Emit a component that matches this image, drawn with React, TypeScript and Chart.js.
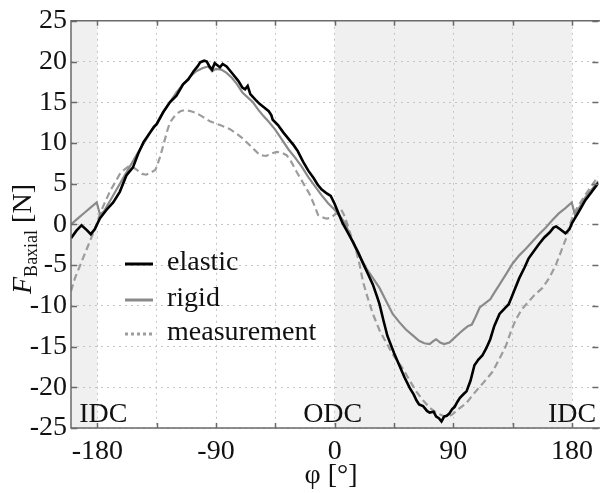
import React, { useEffect, useRef } from "react";
import { Chart, registerables } from "chart.js";

Chart.register(...registerables);

// ---------- data ----------
const elasticAngle = [
  -200, -196, -192, -188, -185, -182, -178, -173, -168, -163, -158, -153, -149, -145, -140, -137, -135, -130, -125, -120,
  -115, -111, -107, -104, -102, -99, -97, -95, -93, -91, -89.5, -87, -85, -82, -79, -77, -73, -70, -68, -66,
  -64, -60, -57, -53, -50, -48, -47, -43, -39, -35, -31, -28, -24, -20, -16, -13, -10, -6, -3, 0,
  3, 6, 10, 14, 18, 21, 25, 29, 32, 34, 37, 40, 45, 49, 53, 57, 60, 62, 64, 67,
  70, 72, 75, 77, 79, 81, 83, 85, 87, 89, 91, 93, 95, 98, 100, 103, 106, 109, 112, 115,
  118, 121, 125, 129, 132, 136, 140, 144, 147, 151, 155, 159, 163, 166, 168, 171, 175, 178, 180, 185,
  190, 195, 200,
];
const elasticForce = [
  -1.7, -0.8, -0.1, -0.7, -1.2, -0.6, 0.75, 1.8, 2.7, 4.0, 6.0, 7.0, 8.7, 10.1, 11.3, 12.0, 12.3, 13.8, 15.0, 15.8,
  17.2, 17.8, 18.8, 19.4, 19.9, 20.1, 20.0, 19.4, 19.0, 19.8, 19.6, 19.3, 19.7, 19.4, 18.8, 18.4, 17.6, 16.8, 16.6, 17.0,
  16.0, 15.3, 14.8, 14.3, 13.9, 13.4, 12.85, 12.2, 11.3, 10.5, 9.7, 9.0, 7.7, 6.6, 5.7, 4.9, 4.3, 3.8, 3.5, 2.5,
  1.3, 0.15, -1.0, -2.2, -3.5, -4.6, -6.0, -7.4, -8.8, -9.8, -11.8, -13.7, -15.8, -17.3, -18.8, -20.1, -20.9, -21.6, -22.1, -22.3,
  -22.9, -23.1, -23.0, -23.6, -23.8, -24.2, -23.6, -23.5, -23.2, -22.7, -22.4, -21.8, -21.3, -20.8, -20.5, -19.2, -17.3, -16.6, -16.1, -15.2,
  -14.1, -12.5, -11.0, -10.3, -9.8, -8.2, -6.6, -5.3, -4.2, -3.3, -2.4, -1.6, -1.0, -0.4, -0.25, -0.6, -1.1, -0.6, 0.15, 1.5,
  2.95, 4.0, 5.1,
];

const rigidAngle = [
  -200, -195, -190, -185, -180.5, -178, -175, -170, -165, -160, -155, -150, -145, -140, -135, -130, -125, -120, -115, -110,
  -105, -100, -96, -93, -90, -86, -82, -78, -74, -70, -66, -62, -58, -54, -50, -45, -40, -35, -30, -25,
  -20, -15, -10, -5, 0, 4, 8, 12, 16, 20, 24, 29, 34, 39, 44, 49, 54, 59, 64, 68,
  72, 75, 77, 80, 83, 87, 91, 95, 98, 101, 104, 107, 110, 114, 118, 121, 125, 130, 135, 140,
  145, 150, 155, 160, 165, 170, 175, 179.8, 182.3, 186, 190, 195, 200,
];
const rigidForce = [
  0, 0.7, 1.4, 2.1, 2.7, 1.2, 1.6, 3.0, 4.4, 5.8, 7.2, 8.6, 9.9, 11.2, 12.4, 13.8, 15.0, 16.2, 17.2, 18.1,
  18.8, 19.2, 19.4, 18.8, 19.1, 19.0, 18.6, 18.0, 17.2, 16.2, 15.6, 15.0, 14.1, 13.3, 12.6, 11.6, 10.4, 9.2, 8.2, 7.1,
  5.8, 4.7, 3.6, 2.6, 1.8, 1.0, 0.1, -1.5, -3.0, -4.2, -5.4, -6.6, -7.8, -9.4, -11.0, -12.0, -12.9, -13.6, -14.3, -14.6,
  -14.7, -14.3, -14.1, -14.5, -14.7, -14.5, -13.9, -13.3, -12.9, -12.5, -12.3, -11.3, -10.2, -9.7, -9.2, -8.4, -7.4, -6.1, -4.8, -3.8,
  -3.0, -2.1, -1.2, -0.4, 0.5, 1.35, 2.0, 2.7, 1.15, 2.2, 3.3, 4.3, 5.3,
];

const measurementAngle = [
  -200, -197, -193, -189, -185, -181, -178, -174, -170, -166, -162.6, -159, -156.6, -153, -150, -146, -143, -140, -136, -133,
  -130, -127, -125, -121, -117, -113.5, -109, -104.6, -100, -94.6, -87, -79.4, -74, -69.4, -63, -56.7, -52, -48, -44, -40,
  -36.5, -33, -29, -24, -19, -15, -12.6, -10, -6, -3, 0, 3, 5, 7, 9, 12, 16, 19, 21.4, 25,
  29, 34, 39, 45, 51.7, 57, 61.8, 67, 71.9, 77, 82, 86, 89.5, 94.6, 99.6, 103, 107, 113, 119.7, 125,
  129.9, 134, 137.4, 142, 147.5, 152, 157.6, 163, 167.7, 172, 175.3, 178, 181.5, 186, 190.4, 195, 200,
];
const measurementForce = [
  -8.2, -6.6, -5.0, -3.4, -1.8, -0.2, 1.35, 2.8, 4.2, 5.3, 6.3, 6.8, 7.1, 7.0, 6.7, 6.2, 6.1, 6.3, 6.7, 8.0,
  9.7, 11.5, 12.5, 13.4, 13.9, 14.05, 13.9, 13.65, 13.2, 12.65, 12.2, 11.7, 11.1, 10.5, 9.5, 8.5, 8.4, 8.7, 8.9, 8.8,
  8.5, 7.7, 6.5, 5.1, 3.7, 2.2, 1.15, 0.9, 0.7, 0.8, 1.2, 1.5, 1.8, 1.2, 0.3, -1.2, -3.0, -5.0, -7.0, -9.0,
  -11.0, -13.0, -14.5, -16.2, -17.7, -19.2, -20.5, -21.6, -22.5, -23.1, -23.5, -23.6, -23.3, -22.6, -22.0, -21.3, -20.5, -19.4, -18.1, -16.5,
  -14.9, -13.0, -11.7, -10.4, -9.4, -8.6, -7.8, -6.5, -5.0, -3.2, -1.8, -0.2, 1.35, 2.6, 3.7, 4.8, 5.9,
];

const seriesNames = ["elastic", "rigid", "measurement"];
const xTickValues = [-180, -135, -90, -45, 0, 45, 90, 135, 180];
const xLabelStep = 90;
const yTickValues = [-25, -20, -15, -10, -5, 0, 5, 10, 15, 20, 25];
const bandStart = [-200, 0];
const bandEnd = [-180, 180];
const markerTexts = ["IDC", "ODC", "IDC"];
const markerAngles = [-175.5, -1.5, 180];
const xRange = [-200, 200];
const yRange = [-25, 25];

// ---------- style ----------
const FONT = "'Liberation Serif', 'Times New Roman', serif";
const FS = 28;
const lineStyles = [
  { color: "#000000", width: 2.6, dash: [] as number[] },
  { color: "#8a8a8a", width: 2.2, dash: [] as number[] },
  { color: "#9c9c9c", width: 2.2, dash: [7, 4] },
];

const pairs = (xs: number[], ys: number[]) => xs.map((x, i) => ({ x, y: ys[i] }));

const decorPlugin = {
  id: "decor",
  beforeDraw(chart: any) {
    const { ctx, chartArea } = chart;
    const xs = chart.scales.x;
    ctx.save();
    ctx.fillStyle = "#f0f0f0";
    bandStart.forEach((s, i) => {
      const a = Math.max(xs.getPixelForValue(s), chartArea.left);
      const b = Math.min(xs.getPixelForValue(bandEnd[i]), chartArea.right);
      ctx.fillRect(a, chartArea.top, b - a, chartArea.bottom - chartArea.top);
    });
    ctx.restore();
  },
  afterDraw(chart: any) {
    const { ctx, chartArea } = chart;
    const xs = chart.scales.x;
    const ys = chart.scales.y;
    const { left, right, top, bottom } = chartArea;
    ctx.save();
    // frame
    ctx.strokeStyle = "#6a6a6a";
    ctx.lineWidth = 1.5;
    ctx.beginPath();
    ctx.moveTo(right + 2, top);
    ctx.lineTo(left, top);
    ctx.lineTo(left, bottom);
    ctx.lineTo(right + 2, bottom);
    ctx.stroke();
    // inward ticks
    ctx.beginPath();
    xTickValues.forEach((v) => {
      const px = Math.round(xs.getPixelForValue(v)) + 0.5;
      ctx.moveTo(px, bottom);
      ctx.lineTo(px, bottom - 5);
      ctx.moveTo(px, top);
      ctx.lineTo(px, top + 5);
    });
    yTickValues.forEach((v) => {
      const py = Math.round(ys.getPixelForValue(v)) + 0.5;
      ctx.moveTo(left, py);
      ctx.lineTo(left + 6, py);
      ctx.moveTo(right, py);
      ctx.lineTo(right - 6, py);
    });
    ctx.stroke();

    // IDC / ODC labels
    ctx.fillStyle = "#111";
    ctx.font = `${FS}px ${FONT}`;
    ctx.textAlign = "center";
    ctx.textBaseline = "alphabetic";
    markerTexts.forEach((t, i) => {
      ctx.fillText(t, xs.getPixelForValue(markerAngles[i]), bottom - 6);
    });

    // legend
    const legX = 125;
    const legY = [264, 300, 334];
    chart.data.datasets.forEach((ds: any, i: number) => {
      const st = lineStyles[i];
      ctx.strokeStyle = st.color;
      ctx.lineWidth = 3;
      ctx.setLineDash(i === 2 ? [3, 3] : []);
      ctx.beginPath();
      ctx.moveTo(legX, legY[i]);
      ctx.lineTo(legX + 28, legY[i]);
      ctx.stroke();
      ctx.setLineDash([]);
      ctx.fillStyle = "#111";
      ctx.textAlign = "left";
      ctx.textBaseline = "middle";
      ctx.fillText(ds.label, legX + 42, legY[i] - 1);
    });

    // x title
    ctx.textAlign = "center";
    ctx.textBaseline = "alphabetic";
    ctx.fillText("φ [°]", 331, 483);

    // y title
    ctx.translate(31, 239);
    ctx.rotate(-Math.PI / 2);
    const partF = "F";
    const partSub = "Baxial";
    const partUnit = " [N]";
    ctx.font = `italic ${FS}px ${FONT}`;
    const wF = ctx.measureText(partF).width;
    ctx.font = `${Math.round(FS * 0.64)}px ${FONT}`;
    const wS = ctx.measureText(partSub).width;
    ctx.font = `${FS}px ${FONT}`;
    const wU = ctx.measureText(partUnit).width;
    let x0 = -(wF + wS + wU) / 2;
    ctx.textAlign = "left";
    ctx.font = `italic ${FS}px ${FONT}`;
    ctx.fillText(partF, x0, 0);
    x0 += wF;
    ctx.font = `${Math.round(FS * 0.64)}px ${FONT}`;
    ctx.fillText(partSub, x0, 6);
    x0 += wS;
    ctx.font = `${FS}px ${FONT}`;
    ctx.fillText(partUnit, x0, 0);
    ctx.restore();
  },
};

export default function App() {
  const ref = useRef<HTMLCanvasElement | null>(null);

  useEffect(() => {
    if (!ref.current) return;
    const series = [
      pairs(elasticAngle, elasticForce),
      pairs(rigidAngle, rigidForce),
      pairs(measurementAngle, measurementForce),
    ];
    const chart = new Chart(ref.current, {
      type: "line",
      data: {
        datasets: series.map((d, i) => ({
          label: seriesNames[i],
          data: d,
          borderColor: lineStyles[i].color,
          borderWidth: lineStyles[i].width,
          borderDash: lineStyles[i].dash,
          pointRadius: 0,
          fill: false,
          tension: 0,
        })),
      },
      options: {
        animation: false,
        responsive: false,
        devicePixelRatio: 1,
        layout: { padding: { top: 9, right: 0, bottom: 0, left: 0 } },
        plugins: { legend: { display: false }, tooltip: { enabled: false } },
        scales: {
          x: {
            type: "linear",
            min: xRange[0],
            max: xRange[1],
            afterBuildTicks: (scale: any) => {
              scale.ticks = xTickValues.map((v) => ({ value: v }));
            },
            afterFit: (scale: any) => {
              scale.height = 65;
            },
            ticks: {
              autoSkip: false,
              maxRotation: 0,
              padding: 7,
              color: "#111",
              font: { family: FONT, size: FS },
              callback: (v: any) => (Number(v) % xLabelStep === 0 ? String(v) : ""),
            },
            grid: { color: "#c4c4c4", lineWidth: 1, drawTicks: false },
            border: { display: false, dash: [2, 4] },
          },
          y: {
            type: "linear",
            min: yRange[0],
            max: yRange[1],
            afterBuildTicks: (scale: any) => {
              scale.ticks = yTickValues.map((v) => ({ value: v }));
            },
            afterFit: (scale: any) => {
              scale.width = 71;
            },
            ticks: {
              autoSkip: false,
              padding: 4,
              color: "#111",
              font: { family: FONT, size: FS },
              callback: (v: any) => String(v),
            },
            grid: { color: "#c4c4c4", lineWidth: 1, drawTicks: false },
            border: { display: false, dash: [2, 4] },
          },
        },
      },
      plugins: [decorPlugin],
    });
    return () => chart.destroy();
  }, []);

  return (
    <div style={{ position: "absolute", left: 0, top: 0, width: 600, height: 493, background: "#fff" }}>
      <canvas ref={ref} width={600} height={493} style={{ display: "block", width: 600, height: 493 }} />
    </div>
  );
}
